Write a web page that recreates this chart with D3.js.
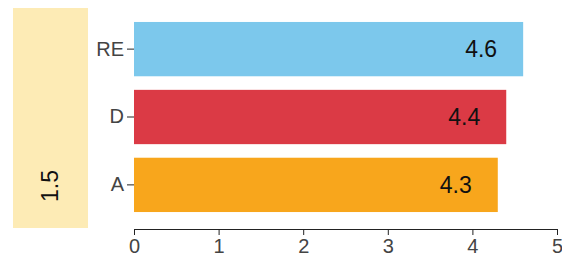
<!DOCTYPE html>
<html>
<head>
<meta charset="utf-8">
<script src="https://cdn.jsdelivr.net/npm/d3@7"></script>
<style>
  html, body { margin: 0; padding: 0; background: #fff; }
  svg { display: block; font-family: "Liberation Sans", Arial, sans-serif; }
</style>
</head>
<body>
<svg id="chart" width="562" height="260"></svg>
<script>
const categories = ["RE", "D", "A"];
const values = [4.6, 4.4, 4.3];
const colors = ["#7CC8EC", "#DB3A45", "#F8A61C"];
const xTicks = [0, 1, 2, 3, 4, 5];
const sideValue = "1.5";

const svg = d3.select("#chart");
const mLeft = 134, mRight = 557, mTop = 5, axisY = 229;

const x = d3.scaleLinear().domain([0, 5]).range([0, mRight - mLeft]);
const y = d3.scaleBand().domain(categories).range([mTop, axisY]).paddingInner(0.2).paddingOuter(0.25);

// side box
svg.append("rect").attr("x", 13).attr("y", 8).attr("width", 75).attr("height", 220).attr("fill", "#FDEBB5");
svg.append("text")
  .attr("transform", "translate(50,186) rotate(-90)")
  .attr("text-anchor", "middle").attr("dominant-baseline", "central")
  .attr("font-size", 23).attr("fill", "#111")
  .text(sideValue);

const g = svg.append("g").attr("transform", `translate(${mLeft},0)`);

g.selectAll("rect.bar").data(categories).join("rect")
  .attr("class", "bar")
  .attr("x", x(0))
  .attr("y", d => y(d))
  .attr("width", (d, i) => x(values[i]) - x(0))
  .attr("height", y.bandwidth())
  .attr("fill", (d, i) => colors[i]);

g.selectAll("text.val").data(categories).join("text")
  .attr("class", "val")
  .attr("x", (d, i) => x(values[i]) - 26)
  .attr("y", d => y(d) + y.bandwidth() / 2)
  .attr("text-anchor", "end").attr("dominant-baseline", "central")
  .attr("font-size", 23).attr("fill", "#111")
  .text((d, i) => values[i].toFixed(1));

// y axis
const ya = g.append("g").call(d3.axisLeft(y).tickSize(7).tickPadding(3));
ya.select(".domain").remove();
ya.selectAll("text").attr("font-size", 20).attr("fill", "#444").attr("font-family", "Liberation Sans, Arial, sans-serif");
ya.selectAll("line").attr("stroke", "#222");

// x axis
const xa = g.append("g").attr("transform", `translate(0,${axisY})`)
  .call(d3.axisBottom(x).tickValues(xTicks).tickFormat(d3.format("d")).tickSize(6).tickPadding(4));
xa.selectAll("text").attr("font-size", 20).attr("fill", "#444").attr("font-family", "Liberation Sans, Arial, sans-serif");
xa.selectAll("line, path").attr("stroke", "#222");
</script>
</body>
</html>
